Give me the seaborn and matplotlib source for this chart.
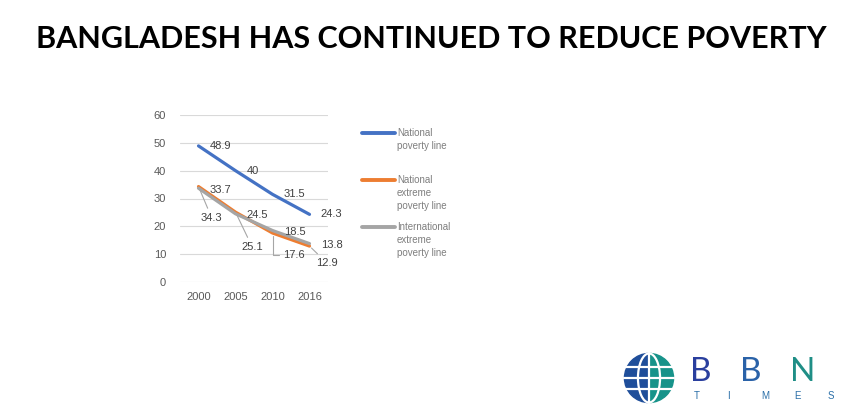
import pandas as pd
import numpy as np
import matplotlib.pyplot as plt
import seaborn as sns
from matplotlib.lines import Line2D
from matplotlib.patches import Circle, Ellipse, Wedge

years = ['2000', '2005', '2010', '2016']
national = [48.9, 40, 31.5, 24.3]
national_extreme = [34.3, 25.1, 17.6, 12.9]
international_extreme = [33.7, 24.5, 18.5, 13.8]
series_names = ['National poverty line', 'National extreme poverty line',
                'International extreme poverty line']
legend_labels = ['National\npoverty line', 'National\nextreme\npoverty line',
                 'International\nextreme\npoverty line']
colors = ['#4472C4', '#ED7D31', '#A5A5A5']

df = pd.DataFrame({
    'year': years * 3,
    'value': national + national_extreme + international_extreme,
    'series': [s for s in series_names for _ in years],
})

sns.set_style('white')
plt.rcParams['font.family'] = ['Liberation Sans', 'DejaVu Sans']

fig = plt.figure(figsize=(8.52, 4.17), dpi=100)
ax = fig.add_axes([180 / 852, 1 - 282 / 417, 148 / 852, 167 / 417])

sns.lineplot(data=df, x='year', y='value', hue='series', palette=colors,
             linewidth=2.3, ax=ax, legend=False, sort=False)

ax.set_ylim(0, 60)
ax.set_xlim(-0.5, 3.5)
ax.set_yticks(range(0, 61, 10))
ax.grid(axis='y', color='#D9D9D9', linewidth=0.8)
ax.set_axisbelow(True)
for s in ax.spines.values():
    s.set_visible(False)
ax.set_xlabel('')
ax.set_ylabel('')
ax.tick_params(axis='both', length=0, labelsize=8, labelcolor='#595959')
ax.tick_params(axis='y', pad=10)
ax.tick_params(axis='x', pad=7)

lab = dict(fontsize=8, color='#404040', textcoords='offset points')
for i, v in enumerate(national):
    ax.annotate(f'{v:g}', (i, v), xytext=(8, 0), ha='left', va='center', **lab)
for i, v in enumerate(international_extreme):
    ax.annotate(f'{v:g}', (i, v), xytext=(8, -1), ha='left', va='center', **lab)

leader = dict(arrowstyle='-', color='#A6A6A6', lw=0.8, shrinkA=1, shrinkB=2)
offsets = [(9.5, -22.5), (12, -25), (15.5, -15.8), (12.6, -12.2)]
for i, v in enumerate(national_extreme):
    ap = dict(leader)
    if i == 2:
        ap['connectionstyle'] = 'angle,angleA=0,angleB=90,rad=0'
    ax.annotate(f'{v:g}', (i, v), xytext=offsets[i], ha='center', va='center',
                arrowprops=ap, **lab)

# legend
leg_y = [133, 180, 227]
for c, t, y in zip(colors, legend_labels, leg_y):
    fig.add_artist(Line2D([362 / 852, 395 / 852], [1 - y / 417] * 2,
                          transform=fig.transFigure, color=c, lw=2.8))
    fig.text(397 / 852, 1 - (y - 5) / 417, t, ha='left', va='top',
             fontsize=7, color='#7F7F7F', linespacing=1.35)

fig.text(431 / 852, 1 - 39 / 417, 'BANGLADESH HAS CONTINUED TO REDUCE POVERTY',
         ha='center', va='center', fontsize=22, fontweight='bold',
         family=['Lato', 'DejaVu Sans'], color='black')

# logo
lax = fig.add_axes([622 / 852, 1 - 405 / 417, 54 / 852, 54 / 417])
lax.set_xlim(-1.1, 1.1)
lax.set_ylim(-1.1, 1.1)
lax.set_aspect('equal')
lax.axis('off')
lax.add_patch(Wedge((0, 0), 1, 90, 270, color='#1F4E9A'))
lax.add_patch(Wedge((0, 0), 1, -90, 90, color='#17938A'))
lax.add_patch(Ellipse((0, 0), 0.9, 2, fill=False, ec='white', lw=1.6))
lax.plot([0, 0], [-1, 1], color='white', lw=1.6)
for yy in [-0.45, 0, 0.45]:
    lax.plot([-1, 1], [yy, yy], color='white', lw=1.6)
fig.text(690 / 852, 1 - 372 / 417, 'B', ha='left', va='center', fontsize=24,
         color='#2A3F9E', family=['Lato', 'DejaVu Sans'])
fig.text(740 / 852, 1 - 372 / 417, 'B', ha='left', va='center', fontsize=24,
         color='#2A62A8', family=['Lato', 'DejaVu Sans'])
fig.text(790 / 852, 1 - 372 / 417, 'N', ha='left', va='center', fontsize=24,
         color='#1F8E86', family=['Lato', 'DejaVu Sans'])
for k, ch in enumerate('TIMES'):
    fig.text((694 + k * 33.5) / 852, 1 - 396 / 417, ch, ha='left',
             va='center', fontsize=7, color='#2A6FA8')

fig.savefig('out.png', dpi=100)
